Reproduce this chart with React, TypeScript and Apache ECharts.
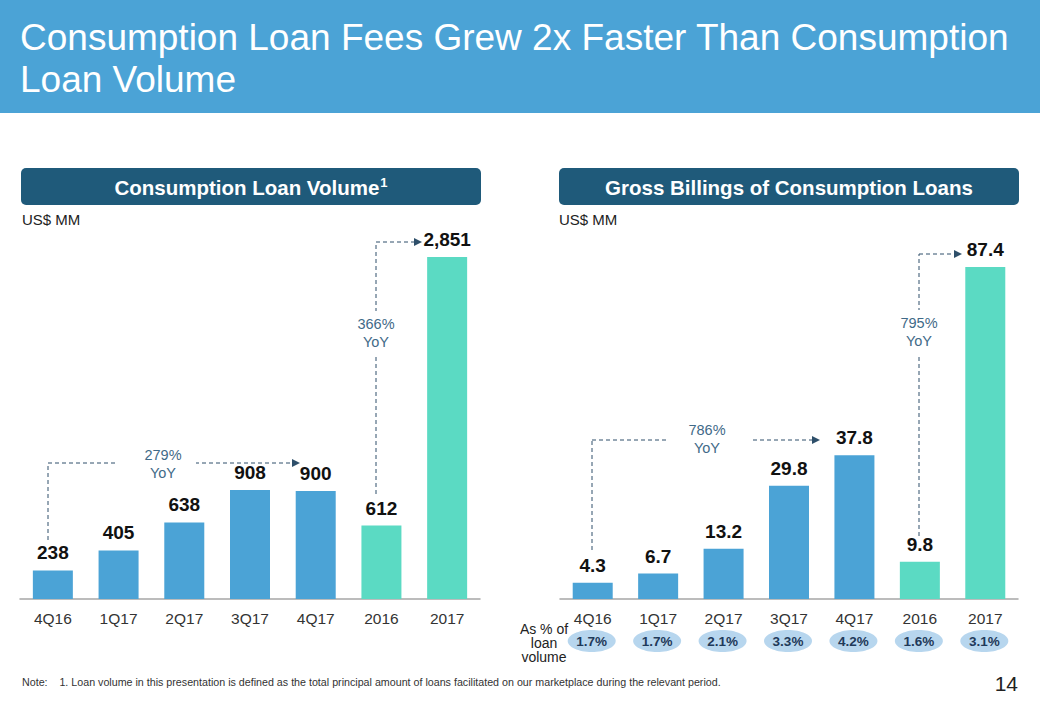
import React, { useEffect, useRef } from "react";
import * as echarts from "echarts";

const categories = ["4Q16", "1Q17", "2Q17", "3Q17", "4Q17", "2016", "2017"];
const periodType = ["Q", "Q", "Q", "Q", "Q", "Y", "Y"];
const loanVolume = [238, 405, 638, 908, 900, 612, 2851];
const grossBillings = [4.3, 6.7, 13.2, 29.8, 37.8, 9.8, 87.4];
const pctOfLoanVolume = ["1.7%", "1.7%", "2.1%", "3.3%", "4.2%", "1.6%", "3.1%"];

const FONT = "'Liberation Sans', Arial, sans-serif";
const BLUE = "#4BA3D6";
const TEAL = "#5BDAC3";
const NAVY = "#1F5A7A";
const ANN = "#3F6A88";

const L = { left: 20, width: 460 };
const R = { left: 560, width: 458 };
const BASE = 599;

function dashedArrow(points: number[][]) {
  const els: any[] = [];
  for (let i = 0; i < points.length - 1; i++) {
    els.push({
      type: "line",
      shape: { x1: points[i][0], y1: points[i][1], x2: points[i + 1][0], y2: points[i + 1][1] },
      style: { stroke: "#2E4F6A", lineWidth: 1, lineDash: [4, 3] },
      silent: true,
    });
  }
  return els;
}

function arrowHead(x: number, y: number) {
  return {
    type: "polygon",
    shape: { points: [[x, y], [x - 8, y - 4], [x - 8, y + 4]] },
    style: { fill: "#2E4F6A" },
  };
}

function mask(x: number, y: number, w: number, h: number) {
  return { type: "rect", shape: { x, y, width: w, height: h }, style: { fill: "#fff" } };
}

function annText(x: number, y: number, t: string) {
  return {
    type: "text",
    x,
    y,
    style: {
      text: t,
      fill: ANN,
      font: `14.5px ${FONT}`,
      align: "center",
      verticalAlign: "middle",
      lineHeight: 18,
    },
  };
}

export default function App() {
  const ref = useRef<HTMLDivElement>(null);
  useEffect(() => {
    if (!ref.current) return;
    const chart = echarts.init(ref.current, null, { renderer: "svg" });
    const colorOf = (i: number) => (periodType[i] === "Y" ? TEAL : BLUE);

    const pills: any[] = [];
    pctOfLoanVolume.forEach((p, i) => {
      const cx = R.left + ((i + 0.5) * R.width) / categories.length - 1;
      pills.push({
        type: "ellipse",
        shape: { cx, cy: 641, rx: 24, ry: 11 },
        style: { fill: "#B7D6EE" },
      });
      pills.push({
        type: "text",
        x: cx,
        y: 641,
        style: {
          text: p,
          fill: "#1F3A5A",
          font: `bold 13.5px ${FONT}`,
          align: "center",
          verticalAlign: "middle",
        },
      });
    });

    chart.setOption({
      animation: false,
      grid: [
        { left: L.left, width: L.width, bottom: 720 - BASE, top: 239, containLabel: false },
        { left: R.left, width: R.width, bottom: 720 - BASE, top: 219, containLabel: false },
      ],
      xAxis: [0, 1].map((g) => ({
        type: "category",
        gridIndex: g,
        data: categories,
        axisTick: { show: false },
        axisLine: { lineStyle: { color: "#A6A6A6", width: 1.5 } },
        axisLabel: { color: "#333", fontSize: 15.5, fontFamily: FONT, margin: 11 },
      })),
      yAxis: [
        { type: "value", gridIndex: 0, min: 0, max: 3000, show: false },
        { type: "value", gridIndex: 1, min: 0, max: 100, show: false },
      ],
      series: [
        {
          type: "bar",
          xAxisIndex: 0,
          yAxisIndex: 0,
          barWidth: 40,
          data: loanVolume.map((v, i) => ({ value: v, itemStyle: { color: colorOf(i) } })),
          label: {
            show: true,
            position: "top",
            distance: 8,
            color: "#111",
            fontWeight: "bold",
            fontSize: 19,
            fontFamily: FONT,
            formatter: (p: any) => p.value.toLocaleString("en-US"),
          },
        },
        {
          type: "bar",
          xAxisIndex: 1,
          yAxisIndex: 1,
          barWidth: 40,
          data: grossBillings.map((v, i) => ({ value: v, itemStyle: { color: colorOf(i) } })),
          label: {
            show: true,
            position: "top",
            distance: 8,
            color: "#111",
            fontWeight: "bold",
            fontSize: 19,
            fontFamily: FONT,
            formatter: (p: any) => p.value.toFixed(1),
          },
        },
      ],
      graphic: [
        { type: "rect", shape: { x: 0, y: 0, width: 1040, height: 113 }, style: { fill: BLUE } },
        {
          type: "text",
          x: 20,
          y: 16,
          style: {
            text: "Consumption Loan Fees Grew 2x Faster Than Consumption\nLoan Volume",
            fill: "#fff",
            font: `37px ${FONT}`,
            lineHeight: 42,
          },
        },
        { type: "rect", shape: { x: 21, y: 168, width: 460, height: 37, r: 5 }, style: { fill: NAVY } },
        {
          type: "text",
          x: 251,
          y: 187,
          style: {
            text: "{a|Consumption Loan Volume}{s|1}",
            align: "center",
            verticalAlign: "middle",
            rich: {
              a: { fill: "#fff", font: `bold 20.5px ${FONT}` },
              s: { fill: "#fff", font: `bold 13px ${FONT}`, verticalAlign: "top", padding: [0, 0, 9, 1] },
            },
          },
        },
        { type: "rect", shape: { x: 559, y: 168, width: 460, height: 37, r: 5 }, style: { fill: NAVY } },
        {
          type: "text",
          x: 789,
          y: 187,
          style: {
            text: "Gross Billings of Consumption Loans",
            fill: "#fff",
            font: `bold 20.5px ${FONT}`,
            align: "center",
            verticalAlign: "middle",
          },
        },
        { type: "text", x: 22, y: 219, style: { text: "US$ MM", fill: "#222", font: `15px ${FONT}`, verticalAlign: "middle" } },
        { type: "text", x: 559, y: 219, style: { text: "US$ MM", fill: "#222", font: `15px ${FONT}`, verticalAlign: "middle" } },
        // 279% YoY
        ...dashedArrow([[48, 540], [48, 463], [292, 463]]),
        mask(116, 455, 80, 16),
        arrowHead(300, 463),
        annText(163, 464, "279%\nYoY"),
        // 366% YoY
        ...dashedArrow([[376, 494], [376, 242], [414, 242]]),
        mask(352, 311, 48, 46),
        arrowHead(422, 242),
        annText(376, 333, "366%\nYoY"),
        // 786% YoY
        ...dashedArrow([[592, 550], [592, 440], [812, 440]]),
        mask(666, 430, 84, 16),
        arrowHead(820, 440),
        annText(707, 439, "786%\nYoY"),
        // 795% YoY
        ...dashedArrow([[919, 536], [919, 254], [954, 254]]),
        mask(895, 310, 48, 46),
        arrowHead(962, 254),
        annText(919, 332, "795%\nYoY"),
        // as % of loan volume
        {
          type: "text",
          x: 544,
          y: 643,
          style: {
            text: "As % of\nloan\nvolume",
            fill: "#222",
            font: `14px ${FONT}`,
            align: "center",
            verticalAlign: "middle",
            lineHeight: 14,
          },
        },
        ...pills,
        {
          type: "text",
          x: 22,
          y: 682,
          style: {
            text: "Note:    1. Loan volume in this presentation is defined as the total principal amount of loans facilitated on our marketplace during the relevant period.",
            fill: "#333",
            font: `10.7px ${FONT}`,
            verticalAlign: "middle",
          },
        },
        {
          type: "text",
          x: 1018,
          y: 683,
          style: { text: "14", fill: "#222", font: `21px ${FONT}`, align: "right", verticalAlign: "middle" },
        },
      ],
    });
    return () => chart.dispose();
  }, []);
  return (
    <div
      ref={ref}
      style={{ position: "absolute", left: 0, top: 0, width: 1040, height: 720, background: "#fff" }}
    />
  );
}
